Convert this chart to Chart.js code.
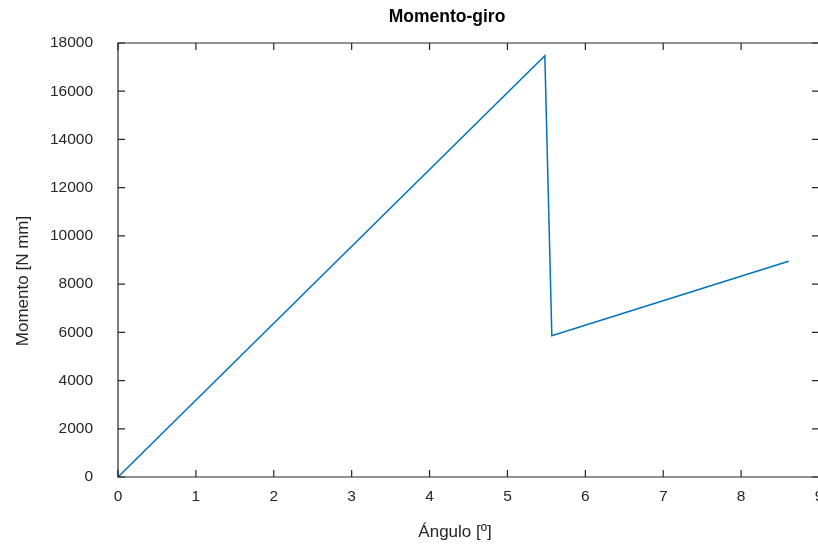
<!DOCTYPE html>
<html>
<head>
<meta charset="utf-8">
<script src="https://cdn.jsdelivr.net/npm/chart.js@4.4.1/dist/chart.umd.min.js"></script>
<style>
html, body { margin: 0; padding: 0; overflow: hidden; background: #ffffff; }
#wrap { position: relative; width: 830px; height: 546px; }
</style>
</head>
<body>
<div id="wrap"><canvas id="c"></canvas></div>
<script>
// Data
const anguloDeg = [0, 5.48, 5.57, 8.61];
const momentoNmm = [0, 17470, 5860, 8950];
const xTickValues = [0, 1, 2, 3, 4, 5, 6, 7, 8, 9];
const yTickValues = [0, 2000, 4000, 6000, 8000, 10000, 12000, 14000, 16000, 18000];
const chartTitle = 'Momento-giro';
const xTitle = 'Ángulo [º]';
const yTitle = 'Momento [N mm]';

const AXIS_COLOR = '#262626';
const FONT = '"Liberation Sans", Arial, Helvetica, sans-serif';

const points = anguloDeg.map((a, i) => ({ x: a, y: momentoNmm[i] }));

const matlabAxes = {
  id: 'matlabAxes',
  afterDraw(chart) {
    const ctx = chart.ctx;
    const a = chart.chartArea;
    const xs = chart.scales.x, ys = chart.scales.y;
    const tl = 7;
    ctx.save();
    ctx.strokeStyle = AXIS_COLOR;
    ctx.lineWidth = 1.2;
    ctx.beginPath();
    ctx.rect(a.left, a.top, a.right - a.left, a.bottom - a.top);
    ctx.stroke();
    ctx.beginPath();
    xTickValues.forEach(v => {
      const px = xs.getPixelForValue(v);
      ctx.moveTo(px, a.bottom); ctx.lineTo(px, a.bottom - tl);
      ctx.moveTo(px, a.top); ctx.lineTo(px, a.top + tl);
    });
    yTickValues.forEach(v => {
      const py = ys.getPixelForValue(v);
      ctx.moveTo(a.left, py); ctx.lineTo(a.left + tl, py);
      ctx.moveTo(a.right, py); ctx.lineTo(a.right - tl, py);
    });
    ctx.stroke();
    // Titles
    ctx.fillStyle = '#000000';
    ctx.textAlign = 'center';
    ctx.textBaseline = 'middle';
    ctx.font = 'bold 17.5px ' + FONT;
    ctx.fillText(chartTitle, 447, 17);
    ctx.fillStyle = AXIS_COLOR;
    ctx.font = '17px ' + FONT;
    ctx.fillText(xTitle, 455, 532);
    ctx.translate(23, 281);
    ctx.rotate(-Math.PI / 2);
    ctx.fillText(yTitle, 0, 0);
    ctx.restore();
  }
};

new Chart(document.getElementById('c'), {
  type: 'line',
  data: {
    datasets: [{
      data: points,
      borderColor: '#0072BD',
      borderWidth: 1.5,
      pointRadius: 0,
      fill: false,
      tension: 0
    }]
  },
  options: {
    responsive: true,
    maintainAspectRatio: false,
    devicePixelRatio: 1,
    animation: false,
    layout: { padding: { top: 43, right: 11, left: 0, bottom: 0 } },
    plugins: { legend: { display: false }, tooltip: { enabled: false }, title: { display: false } },
    scales: {
      x: {
        type: 'linear',
        min: 0, max: 9,
        afterBuildTicks: s => { s.ticks = xTickValues.map(v => ({ value: v })); },
        afterFit: s => { s.height = 69; s.paddingLeft = 0; s.paddingRight = 0; },
        grid: { display: false, drawTicks: false },
        border: { display: false },
        ticks: { color: AXIS_COLOR, padding: 10, maxRotation: 0, autoSkip: false, font: { family: FONT, size: 15.5 } }
      },
      y: {
        type: 'linear',
        min: 0, max: 18000,
        afterBuildTicks: s => { s.ticks = yTickValues.map(v => ({ value: v })); },
        afterFit: s => { s.width = 118; s.paddingTop = 0; s.paddingBottom = 0; },
        grid: { display: false, drawTicks: false },
        border: { display: false },
        ticks: { color: AXIS_COLOR, padding: 25, autoSkip: false, font: { family: FONT, size: 15.5 }, callback: v => String(v) }
      }
    }
  },
  plugins: [matlabAxes]
});
</script>
</body>
</html>
